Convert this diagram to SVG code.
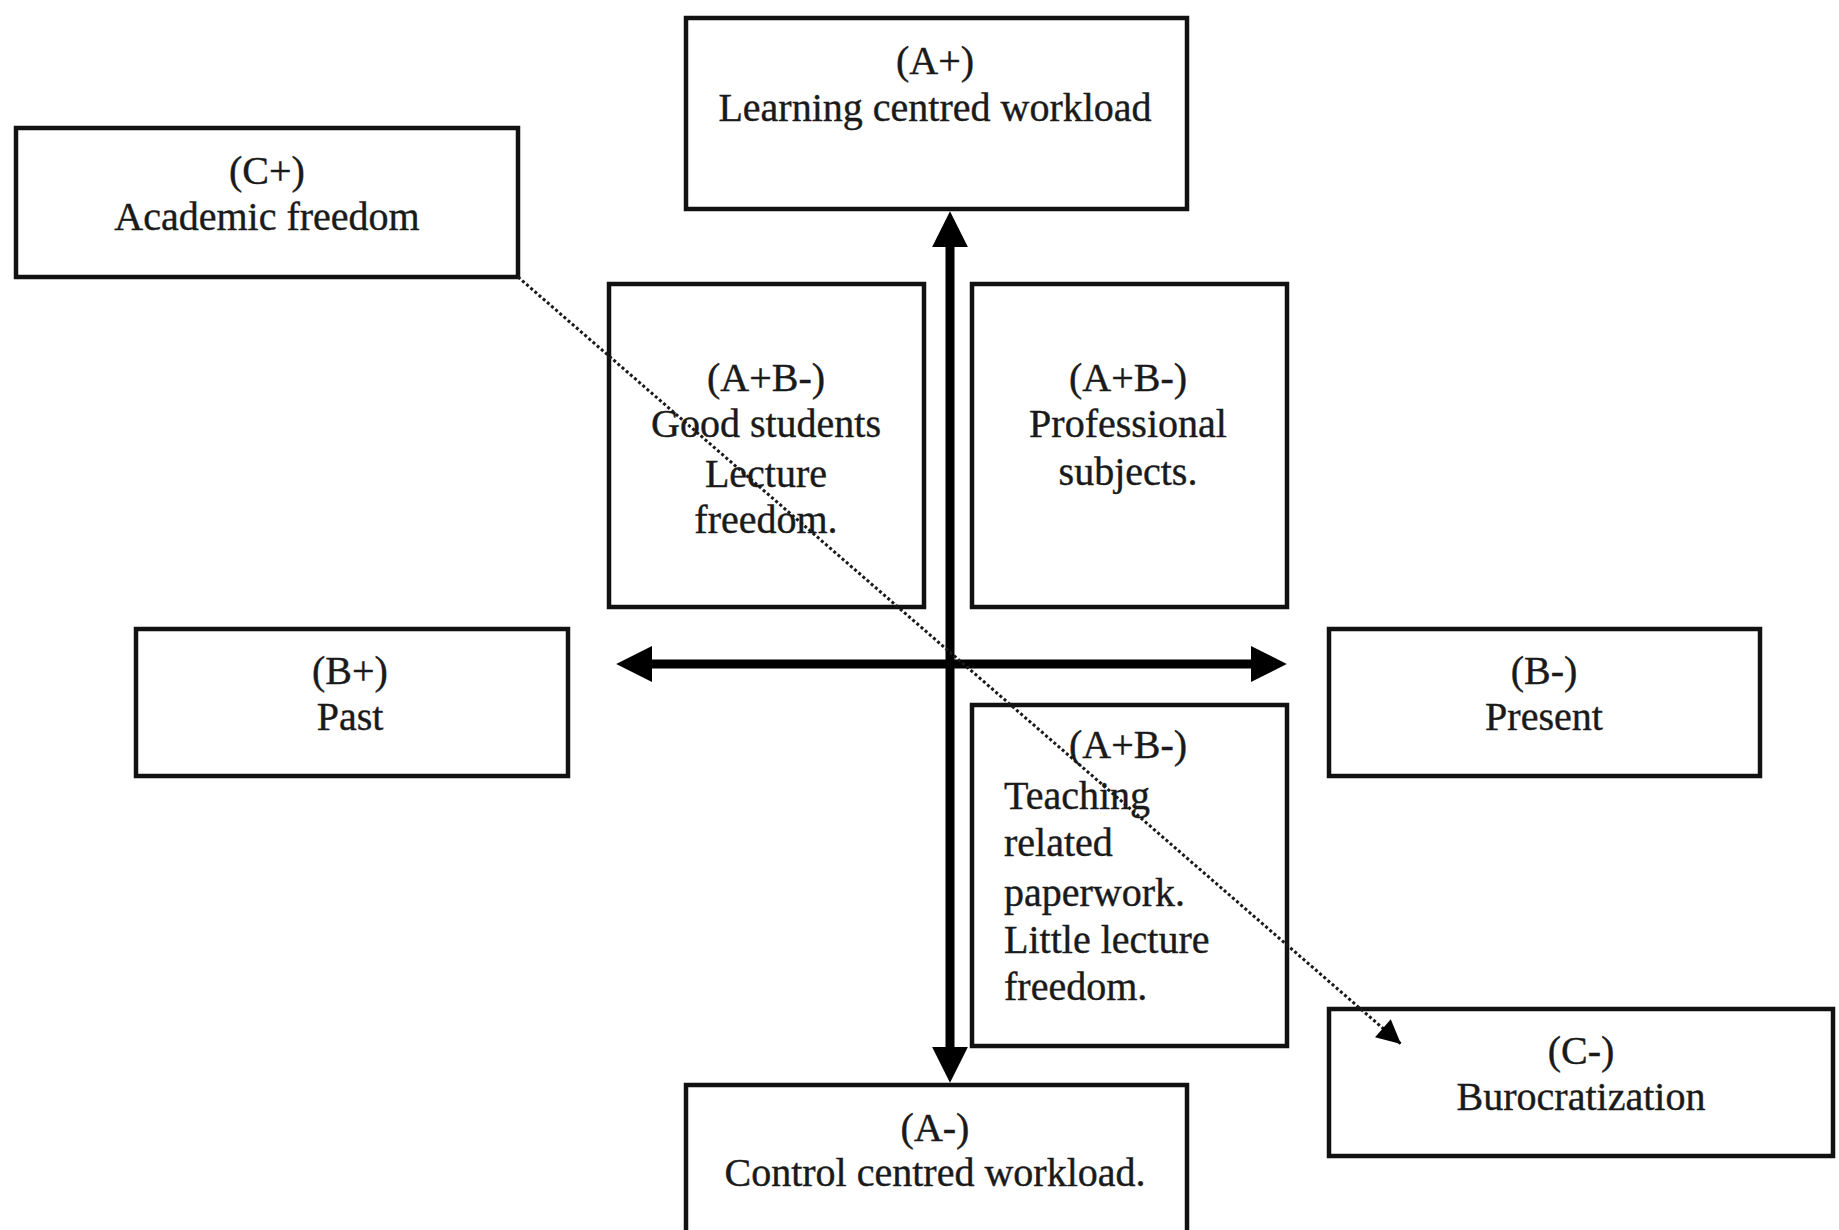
<svg xmlns="http://www.w3.org/2000/svg" width="1839" height="1230" viewBox="0 0 1839 1230">
<style>
.box{fill:#fff;stroke:#111;stroke-width:4.5}
.t{font-family:"Liberation Serif","Times New Roman",serif;font-size:40px;fill:#1a1a1a;stroke:#1a1a1a;stroke-width:0.4;text-anchor:middle}
.l{text-anchor:start}
.axis{stroke:#000;stroke-width:9;fill:none}
.dot{stroke:#1a1a1a;stroke-width:3;stroke-dasharray:3 2.5;fill:none}
</style>
<defs>
<marker id="big" viewBox="0 0 10 10" refX="2" refY="5" markerUnits="userSpaceOnUse" markerWidth="36" markerHeight="36" orient="auto-start-reverse">
<path d="M0,0 L10,5 L0,10 Z" fill="#000"/>
</marker>
<marker id="small" viewBox="0 0 10 10" refX="10" refY="5" markerUnits="userSpaceOnUse" markerWidth="26" markerHeight="24" orient="auto">
<path d="M0,0 L10,5 L0,10 Z" fill="#000"/>
</marker>
</defs>
<rect width="1839" height="1230" fill="#fff"/>
<g id="nodeAplus">
<rect class="box" x="686" y="18" width="501" height="191"/>
<text class="t" x="935" y="74">(A+)</text>
<text class="t" x="935" y="121">Learning centred workload</text>
</g>
<g id="nodeCplus">
<rect class="box" x="16" y="128" width="502" height="149"/>
<text class="t" x="267" y="184">(C+)</text>
<text class="t" x="267" y="230">Academic freedom</text>
</g>
<g id="nodeAB1">
<rect class="box" x="609" y="284" width="315" height="323"/>
<text class="t" x="766" y="391">(A+B-)</text>
<text class="t" x="766" y="437">Good students</text>
<text class="t" x="766" y="487">Lecture</text>
<text class="t" x="766" y="533">freedom.</text>
</g>
<g id="nodeAB2">
<rect class="box" x="972" y="284" width="315" height="323"/>
<text class="t" x="1128" y="391">(A+B-)</text>
<text class="t" x="1128" y="437">Professional</text>
<text class="t" x="1128" y="485">subjects.</text>
</g>
<g id="nodeBplus">
<rect class="box" x="136" y="629" width="432" height="147"/>
<text class="t" x="350" y="684">(B+)</text>
<text class="t" x="350" y="730">Past</text>
</g>
<g id="nodeBminus">
<rect class="box" x="1329" y="629" width="431" height="147"/>
<text class="t" x="1544" y="684">(B-)</text>
<text class="t" x="1544" y="730">Present</text>
</g>
<g id="nodeAB3">
<rect class="box" x="972" y="705" width="315" height="341"/>
<text class="t" x="1128" y="758">(A+B-)</text>
<text class="t l" x="1004" y="809">Teaching</text>
<text class="t l" x="1004" y="856">related</text>
<text class="t l" x="1004" y="906">paperwork.</text>
<text class="t l" x="1004" y="953">Little lecture</text>
<text class="t l" x="1004" y="1000">freedom.</text>
</g>
<g id="nodeCminus">
<rect class="box" x="1329" y="1009" width="504" height="147"/>
<text class="t" x="1581" y="1064">(C-)</text>
<text class="t" x="1581" y="1110">Burocratization</text>
</g>
<g id="nodeAminus">
<rect class="box" x="686" y="1085" width="501" height="160"/>
<text class="t" x="935" y="1141">(A-)</text>
<text class="t" x="935" y="1186">Control centred workload.</text>
</g>
<g id="connectors">
<line class="axis" x1="950" y1="240" x2="950" y2="1054" marker-start="url(#big)" marker-end="url(#big)"/>
<line class="axis" x1="645" y1="664" x2="1258" y2="664" marker-start="url(#big)" marker-end="url(#big)"/>
<line class="dot" x1="518" y1="277" x2="1401" y2="1044" marker-end="url(#small)"/>
</g>
</svg>
